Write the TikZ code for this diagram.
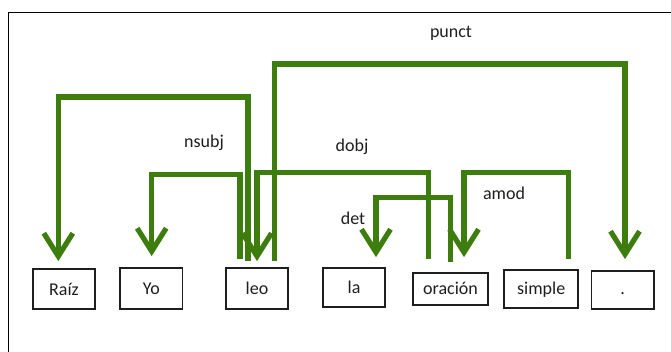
\documentclass[tikz,border=0pt]{standalone}
\usepackage{fontspec}
\setmainfont{Carlito}
\usetikzlibrary{arrows.meta}
\definecolor{depgreen}{RGB}{60,125,14}
\definecolor{boxc}{RGB}{30,30,30}
\begin{document}
\begin{tikzpicture}[x=1pt,y=1pt,
  word/.style={draw=boxc,line width=1.8pt,minimum width=62.5pt,minimum height=40.5pt,inner sep=0pt,font=\fontsize{18}{20}\selectfont,text=boxc},
  dep/.style={draw=depgreen,line width=5.2pt,-{Straight Barb[length=23pt,width=29pt]}},
  lab/.style={font=\fontsize{18}{20}\selectfont,text=boxc,inner sep=0pt}]
\useasboundingbox (0,0) rectangle (671,351);
% frame
\draw[line width=1.7pt,black] (8.5,-3) -- (8.5,338.5) -- (675,338.5);
% words
\node[word,minimum height=40pt] (raiz) at (64,62) {Raíz};
\node[word,minimum height=41pt] (yo) at (151.3,62.5) {Yo};
\node[word,minimum height=41pt] (leo) at (257,62.5) {leo};
\node[word,minimum height=39.3pt] (la) at (354,63.3) {la};
\node[word,minimum width=75.6pt,minimum height=32.3pt] (oracion) at (450.5,62.2) {oración};
\node[word,minimum width=74.3pt,minimum height=38.3pt] (simple) at (541.2,61.8) {simple};
\node[word,minimum height=38.6pt] (punto) at (622.7,61) {\vphantom{Ay}.};
% dependencies
\draw[dep] ([xshift=-9pt,yshift=6pt]leo.north) -- ++(0,164) -| ([xshift=-5.7pt,yshift=7pt]raiz.north);
\draw[dep] ([xshift=-17pt,yshift=8pt]leo.north) -- ++(0,84.5) -| ([xshift=0.4pt,yshift=11pt]yo.north);
\draw[dep] ([xshift=-22.2pt,yshift=12.6pt]oracion.north) -- ++(0,87) -| ([yshift=6pt]leo.north);
\draw[dep] ([xshift=17.5pt,yshift=6pt]leo.north) -- ++(0,197) -| ([xshift=2.3pt,yshift=10.7pt]punto.north);
\draw[dep] ([xshift=0.2pt,yshift=9.6pt]oracion.north) -- ++(0,65) -| ([xshift=22pt,yshift=10pt]la.north);
\draw[dep] ([xshift=27.1pt,yshift=10pt]simple.north) -- ++(0,87) -| ([xshift=13.5pt,yshift=14.6pt]oracion.north);
% labels
\node[lab] (lpunct) at (451,318) {punct};
\node[lab] (lnsubj) at (204,208) {nsubj};
\node[lab] (ldobj) at (352,204) {dobj};
\node[lab] (ldet) at (353,133) {det};
\node[lab] (lamod) at (504,158) {amod};
\end{tikzpicture}
\end{document}
